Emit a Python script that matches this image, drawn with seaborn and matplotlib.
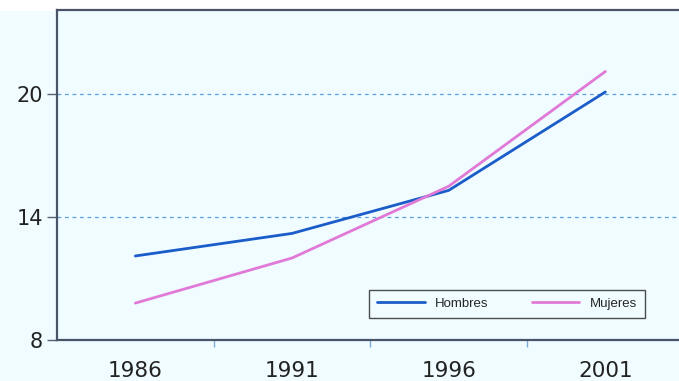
import matplotlib
matplotlib.use("Agg")
import matplotlib.pyplot as plt
import seaborn as sns
import pandas as pd

years = ["1986", "1991", "1996", "2001"]
hombres = [12.1, 13.2, 15.3, 20.1]
mujeres = [9.8, 12.0, 15.5, 21.1]
y_ticks = [8, 14, 20]

df = pd.DataFrame({
    "pos": list(range(len(years))) * 2,
    "valor": hombres + mujeres,
    "serie": ["Hombres"] * len(years) + ["Mujeres"] * len(years),
})

sns.set_theme(style="white")
plt.rcParams["font.family"] = ["DejaVu Sans"]

bg = "#f0fcff"
fig = plt.figure(figsize=(6.79, 3.81), dpi=100, facecolor=bg)
fig.patches.append(plt.Rectangle((0, 1 - 10 / 381), 1, 10 / 381,
                                 transform=fig.transFigure, color="white", zorder=0))
ax = fig.add_axes([57 / 679, 41 / 381, 1 - 57 / 679, 330 / 381])
ax.set_zorder(2)
ax.set_facecolor(bg)

palette = {"Hombres": "#1a5cc8", "Mujeres": "#e07ad6"}
sns.lineplot(data=df, x="pos", y="valor", hue="serie", palette=palette,
             linewidth=2, ax=ax, legend=True)

ax.set_xlim(-0.5, 3.47)
ax.set_ylim(8, 24.1)
ax.set_yticks(y_ticks)
ax.set_yticklabels([str(v) for v in y_ticks], fontsize=15, color="#222222")
ax.tick_params(axis="y", length=7, width=1, color="#556070", pad=3, left=True)

# category labels centred, tick marks between categories
ax.set_xticks([0.5, 1.5, 2.5])
ax.set_xticklabels([])
ax.set_xticks(range(len(years)), minor=True)
ax.set_xticklabels(years, minor=True, fontsize=15.5, color="#222222")
ax.tick_params(axis="x", which="major", length=5, width=1, color="#7aaed8", bottom=True)
ax.tick_params(axis="x", which="minor", length=0, pad=15)

for v in y_ticks[1:]:
    ax.axhline(v, color="#5a9ee0", linestyle=(0, (3, 3)), linewidth=0.9, zorder=0)

for side in ["left", "top", "bottom"]:
    ax.spines[side].set_color("#4a5468")
    ax.spines[side].set_linewidth(1.6)
ax.spines["right"].set_visible(False)

ax.set_xlabel("")
ax.set_ylabel("")

leg = ax.legend(title=None, loc="lower left",
                bbox_to_anchor=(0.502, 0.067, 0.443, 0.088), mode="expand",
                borderaxespad=0, ncol=2, handlelength=3.6, frameon=True,
                fancybox=False, borderpad=0.6, columnspacing=1.5,
                prop={"family": "Liberation Sans", "size": 9.5})
leg.get_frame().set_edgecolor("#222222")
leg.get_frame().set_linewidth(1.0)
leg.get_frame().set_facecolor(bg)

fig.savefig("out.png", dpi=100, facecolor=bg)
